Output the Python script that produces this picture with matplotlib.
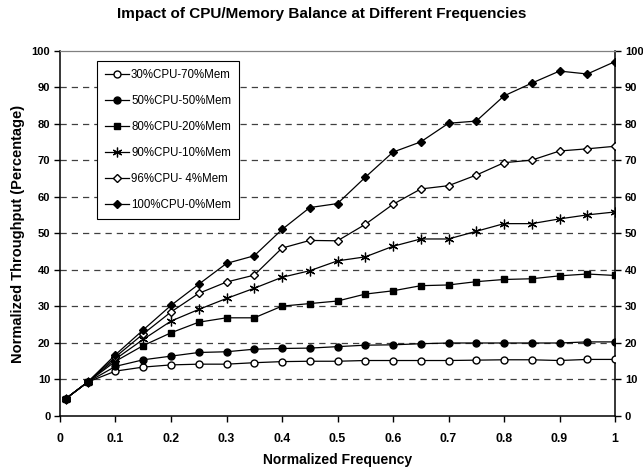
import matplotlib
matplotlib.use("Agg")
import matplotlib.pyplot as plt

plt.rcParams['font.family'] = ['Liberation Sans', 'DejaVu Sans']

# normalized frequency (x)
freq = [0.01, 0.05, 0.1, 0.15, 0.2, 0.25, 0.3, 0.35, 0.4, 0.45, 0.5,
        0.55, 0.6, 0.65, 0.7, 0.75, 0.8, 0.85, 0.9, 0.95, 1.0]

# normalized throughput (%) per CPU/Memory mix
cpu30 = [4.7, 9.3, 12.3, 13.4, 14.0, 14.2, 14.2, 14.6, 14.9, 15.0, 15.0,
         15.2, 15.2, 15.2, 15.2, 15.3, 15.4, 15.4, 15.2, 15.5, 15.5]
cpu50 = [4.7, 9.3, 13.6, 15.4, 16.4, 17.4, 17.6, 18.3, 18.5, 18.6, 19.0,
         19.4, 19.5, 19.8, 20.0, 20.0, 20.0, 20.0, 20.0, 20.3, 20.3]
cpu80 = [4.7, 9.3, 15.0, 19.3, 22.8, 25.7, 26.9, 26.9, 30.1, 30.8, 31.5,
         33.4, 34.3, 35.7, 35.9, 36.8, 37.4, 37.6, 38.4, 38.9, 38.5]
cpu90 = [4.7, 9.3, 15.6, 21.0, 26.0, 29.2, 32.2, 35.0, 38.0, 39.8, 42.5,
         43.6, 46.5, 48.5, 48.5, 50.6, 52.7, 52.7, 54.0, 55.1, 55.9]
cpu96 = [4.7, 9.3, 16.2, 22.5, 28.5, 33.6, 36.7, 38.6, 46.0, 48.1, 48.0,
         52.5, 58.0, 62.2, 63.1, 66.0, 69.4, 70.1, 72.6, 73.2, 73.9]
cpu100 = [4.7, 9.3, 16.8, 23.6, 30.3, 36.1, 41.8, 43.9, 51.1, 57.1, 58.2,
          65.4, 72.3, 75.1, 80.2, 80.8, 87.7, 91.2, 94.5, 93.7, 97.1]

labels = ['30%CPU-70%Mem', '50%CPU-50%Mem', '80%CPU-20%Mem',
          '90%CPU-10%Mem', '96%CPU- 4%Mem', '100%CPU-0%Mem']

fig = plt.figure(figsize=(6.43, 4.70), dpi=100)
ax = fig.add_axes([0.0933, 0.1149, 0.8632, 0.7766])

# 시리즈별 마커 스타일
styles = [
    dict(marker='o', markersize=5, markerfacecolor='white'),
    dict(marker='o', markersize=5, markerfacecolor='black'),
    dict(marker='s', markersize=5, markerfacecolor='black'),
    dict(marker=(6, 2, 0), markersize=7, markerfacecolor='black', markeredgewidth=0.9),
    dict(marker='D', markersize=4.2, markerfacecolor='white'),
    dict(marker='D', markersize=4.2, markerfacecolor='black'),
]
series = [cpu30, cpu50, cpu80, cpu90, cpu96, cpu100]

for ys, lab, st in zip(series, labels, styles):
    ax.plot(freq, ys, color='black', linewidth=0.9, markeredgecolor='black',
            label=lab, zorder=3, **st)

# 점선 격자
for v in range(10, 100, 10):
    ax.axhline(v, color='0.25', linewidth=0.9, dashes=(5, 4), zorder=1)

ax.set_xlim(0, 1)
ax.set_ylim(0, 100)
ax.set_xticks([0, 0.1, 0.2, 0.3, 0.4, 0.5, 0.6, 0.7, 0.8, 0.9, 1])
ax.set_xticklabels(['0', '0.1', '0.2', '0.3', '0.4', '0.5', '0.6', '0.7', '0.8', '0.9', '1'])
ax.set_yticks(range(0, 101, 10))
ax.tick_params(axis='both', width=1, length=4, direction='out')
ax.tick_params(axis='y', right=True, labelright=True, pad=3, labelsize=8)
ax.tick_params(axis='x', pad=8, labelsize=8.8)
for t in ax.get_xticklabels() + ax.get_yticklabels():
    t.set_fontweight('bold')
for tk in ax.yaxis.get_major_ticks():
    tk.label2.set_fontweight('bold')

for s in ['left', 'right', 'bottom']:
    ax.spines[s].set_color('black')
    ax.spines[s].set_linewidth(1.1)
ax.spines['top'].set_color('0.5')
ax.spines['top'].set_linewidth(0.9)

ax.set_xlabel('Normalized Frequency', fontsize=10, fontweight='bold', va='center')
ax.xaxis.set_label_coords(0.5, -0.1205)
ax.set_ylabel('Normalized Throughput (Percentage)', fontsize=10.5, fontweight='bold', va='center')
ax.yaxis.set_label_coords(-0.0757, 0.5)
fig.text(0.5, 0.970, 'Impact of CPU/Memory Balance at Different Frequencies',
         fontsize=11, fontweight='bold', ha='center', va='center')

leg = ax.legend(loc='upper left', bbox_to_anchor=(0.0667, 0.9726), fontsize=8.3,
                frameon=True, fancybox=False, framealpha=1, edgecolor='black',
                handlelength=2.1, labelspacing=1.21, borderpad=0.7,
                handletextpad=0.15, borderaxespad=0)
leg.get_frame().set_linewidth(0.8)

fig.savefig('out.png', dpi=100)
